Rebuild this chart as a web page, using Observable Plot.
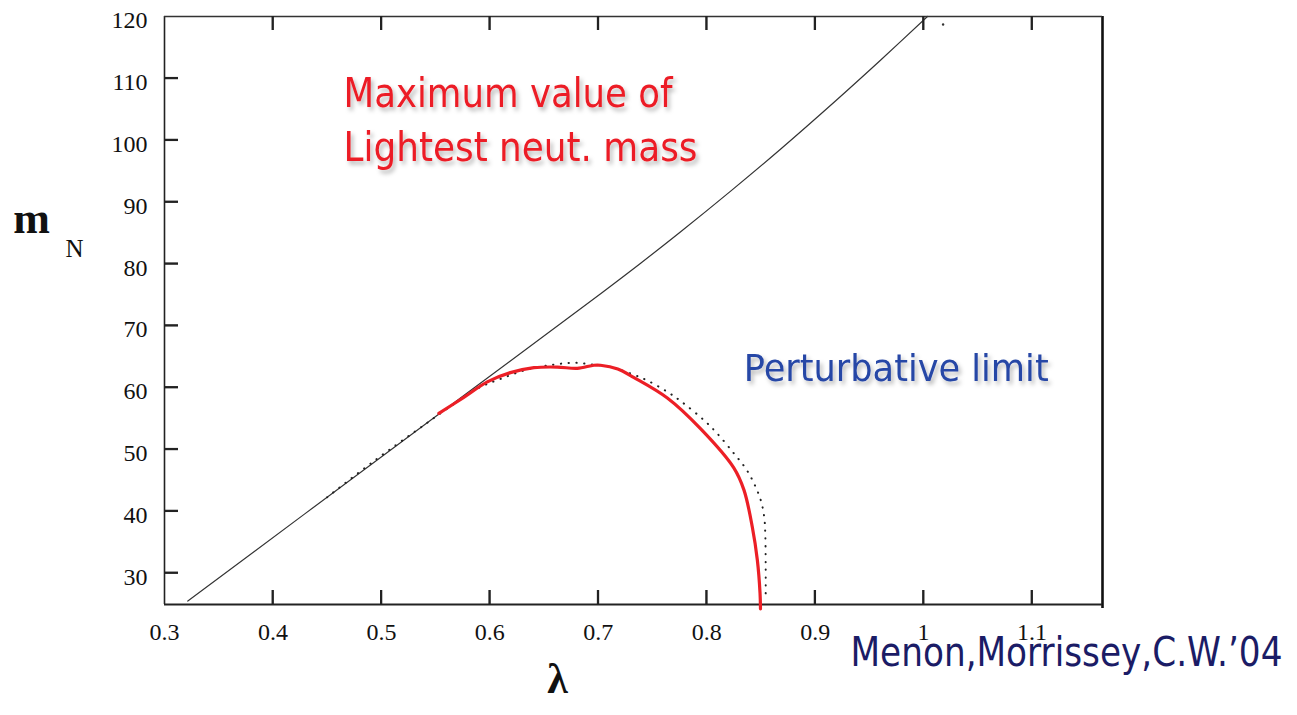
<!DOCTYPE html>
<html><head><meta charset="utf-8">
<script src="https://cdn.jsdelivr.net/npm/d3@7"></script>
<script src="https://cdn.jsdelivr.net/npm/@observablehq/plot@0.6"></script>
<style>
html,body{margin:0;padding:0;background:#fff;}
#chart{width:1297px;height:715px;overflow:hidden;}
</style></head><body><div id="chart"></div>
<script>
// ---- data ----
const lineLambda = [0.3215,0.5008,0.7022,0.7391,0.776,0.8221,0.8683,0.919,0.9605,1.0036];
const lineMass   = [25.46,48.89,75.17,80.10,85.19,91.76,98.58,106.38,112.97,120];

const redLambda = [0.553,0.576,0.5977,0.619,0.6407,0.6622,0.6807,0.696,0.702,0.718,0.733,0.7637,0.7945,0.825,0.8344,0.8421,0.8467,0.8492,0.8496];
const redMass   = [55.8,58.4,60.9,62.4,63.2,63.3,63.1,63.6,63.6,63.0,61.6,58.3,53.3,47.0,43.4,37.4,32.1,26.7,24.2];

const dotLambda = [0.45,0.4916,0.5392,0.565,0.5883,0.61,0.6345,0.659,0.6776,0.6945,0.71,0.7175,0.742,0.7637,0.7775,0.7975,0.81,0.8252,0.836,0.8436,0.8498,0.853,0.854,0.8544,0.8544];
const dotMass   = [42.24,47.9,53.9,57.1,59.8,61.4,62.9,63.7,64.0,63.7,63.4,63.0,61.4,59.3,57.6,54.7,52.5,49.3,46.9,44.5,41.8,39.1,36.4,31.0,25.6];

const strayLambda = [1.018];
const strayMass = [118.7];

const xTicks = [0.3,0.4,0.5,0.6,0.7,0.8,0.9,1.0,1.1];
const xTickLabels = ["0.3","0.4","0.5","0.6","0.7","0.8","0.9","1","1.1"];
const yTicks = [30,40,50,60,70,80,90,100,110,120];

const redNotes = ["Maximum value of","Lightest neut. mass"];
const redNoteLambda = [0.4651,0.4651];
const redNoteMass = [105.4,96.6];
const blueNotes = ["Perturbative limit"];
const blueNoteLambda = [0.8341];
const blueNoteMass = [61.1];
const captionText = "Menon,Morrissey,C.W.\u201904";

// ---- tables ----
const zip = (a,b) => a.map((v,i)=>({l:v, m:b[i]}));
const mainLine = zip(lineLambda,lineMass);
const redCurve = zip(redLambda,redMass);
const dotCurve = zip(dotLambda,dotMass);
const strayPts = zip(strayLambda,strayMass);
const redTab = redNotes.map((t,i)=>({t, l:redNoteLambda[i], m:redNoteMass[i]}));
const blueTab = blueNotes.map((t,i)=>({t, l:blueNoteLambda[i], m:blueNoteMass[i]}));

const X0 = 0.3, X1 = 1.165, Y0 = 24.9, Y1 = 120;
const W=1297,H=715, mL=164, mR=195, mT=16, mB=111;
const tickLen = 14;
const kx = (X1-X0)/(W-mL-mR)*tickLen;
const ky = (Y1-Y0)/(H-mT-mB)*tickLen;
const serifFont = "Liberation Serif, Times New Roman, serif";
const sansFont = "DejaVu Sans, Verdana, sans-serif";
const innerX = xTicks.filter(d=>d>X0);
const innerY = yTicks.filter(d=>d<Y1);

const chart = Plot.plot({
  width:W, height:H, marginLeft:mL, marginRight:mR, marginTop:mT, marginBottom:mB,
  x:{domain:[X0,X1], axis:null},
  y:{domain:[Y0,Y1], axis:null},
  marks:[
    // frame lines
    Plot.ruleX([X0], {stroke:"#222", strokeWidth:1.6}),
    Plot.ruleX([X1], {stroke:"#111", strokeWidth:2.6, insetBottom:-4}),
    Plot.ruleY([Y1], {stroke:"#333", strokeWidth:1.4}),
    Plot.ruleY([Y0], {stroke:"#222", strokeWidth:2}),
    // inward tick marks (14 px long)
    Plot.ruleY(innerY, {y:d=>d, x1:X0, x2:X0+kx, stroke:"#222", strokeWidth:1.8}),
    Plot.ruleX(innerX, {x:d=>d, y1:Y0, y2:Y0+ky, stroke:"#222", strokeWidth:1.8}),
    Plot.ruleX(innerX, {x:d=>d, y1:Y1-ky, y2:Y1, stroke:"#222", strokeWidth:1.8}),
    // tick labels
    Plot.text(yTicks, {y:d=>d, frameAnchor:"left", textAnchor:"end", dx:-17, dy:4, text:d=>String(d), fontFamily:serifFont, fontSize:24, fill:"#111"}),
    Plot.text(xTicks, {x:d=>d, frameAnchor:"bottom", lineAnchor:"top", dy:18, text:(d,i)=>xTickLabels[i], fontFamily:serifFont, fontSize:24, fill:"#111"}),
    // axis labels
    Plot.text(["m"], {frameAnchor:"left", textAnchor:"middle", lineAnchor:"bottom", dx:-133, dy:-78, fontFamily:serifFont, fontSize:44, fontWeight:"bold", fill:"#111"}),
    Plot.text(["N"], {frameAnchor:"left", textAnchor:"middle", lineAnchor:"bottom", dx:-90, dy:-54, fontFamily:serifFont, fontSize:25, fill:"#111"}),
    Plot.text(["\u03bb"], {frameAnchor:"bottom", textAnchor:"middle", lineAnchor:"bottom", dx:-76, dy:88, fontFamily:serifFont, fontSize:42, fontWeight:"bold", fill:"#111"}),
    // curves
    Plot.line(mainLine, {x:"l", y:"m", curve:"catmull-rom", stroke:"#333", strokeWidth:1.2}),
    Plot.dot(strayPts, {x:"l", y:"m", r:1.2, fill:"#333"}),
    Plot.line(dotCurve, {x:"l", y:"m", curve:"catmull-rom", stroke:"#222", strokeWidth:2, strokeDasharray:"0.3,7.5", strokeLinecap:"round"}),
    Plot.line(redCurve, {x:"l", y:"m", curve:"catmull-rom", stroke:"#ec1f26", strokeWidth:3.2}),
    // annotations
    Plot.text(redTab, {x:"l", y:"m", text:"t", textAnchor:"start", lineAnchor:"bottom", fontFamily:sansFont, fontSize:41, fill:"#ec1f26"}),
    Plot.text(blueTab, {x:"l", y:"m", text:"t", textAnchor:"start", lineAnchor:"bottom", fontFamily:sansFont, fontSize:38, fill:"#2747a6"}),
    Plot.text([captionText], {frameAnchor:"bottom-right", textAnchor:"start", lineAnchor:"bottom", dx:-252, dy:61, fontFamily:sansFont, fontSize:41, fill:"#1b1c66"})
  ]
});
document.getElementById("chart").appendChild(chart);

const svgSel = d3.select(chart);
// also draw the inward ticks on top, positioned by the plot's own scales
const sx = chart.scale("x"), sy = chart.scale("y");
const tg = svgSel.append("g").attr("stroke","#222").attr("stroke-width",1.8);
const px0 = sx.apply(X0), py0 = sy.apply(Y0), py1 = sy.apply(Y1);
innerY.forEach(v => { const p = sy.apply(v); tg.append("line").attr("x1",px0).attr("x2",px0+tickLen).attr("y1",p).attr("y2",p); });
innerX.forEach(v => { const p = sx.apply(v);
  tg.append("line").attr("x1",p).attr("x2",p).attr("y1",py0).attr("y2",py0-tickLen);
  tg.append("line").attr("x1",p).attr("x2",p).attr("y1",py1).attr("y2",py1+tickLen); });

// shadow filter + fit annotation widths
const defsSel = svgSel.append("defs");
const shadow = defsSel.append("filter").attr("id","softshadow").attr("x","-10%").attr("y","-20%").attr("width","130%").attr("height","160%");
shadow.append("feDropShadow").attr("dx",2.5).attr("dy",3.5).attr("stdDeviation",2).attr("flood-color","#000").attr("flood-opacity",0.28);
const fitWidths = new Map([["Maximum value of",329],["Lightest neut. mass",354],["Perturbative limit",305],[captionText,432]]);
svgSel.selectAll("text").each(function(){
  const t = this.textContent;
  if (fitWidths.has(t)) {
    this.setAttribute("textLength", fitWidths.get(t));
    this.setAttribute("lengthAdjust","spacingAndGlyphs");
    if (t !== captionText) this.setAttribute("filter","url(#softshadow)");
  }
});
</script></body></html>
